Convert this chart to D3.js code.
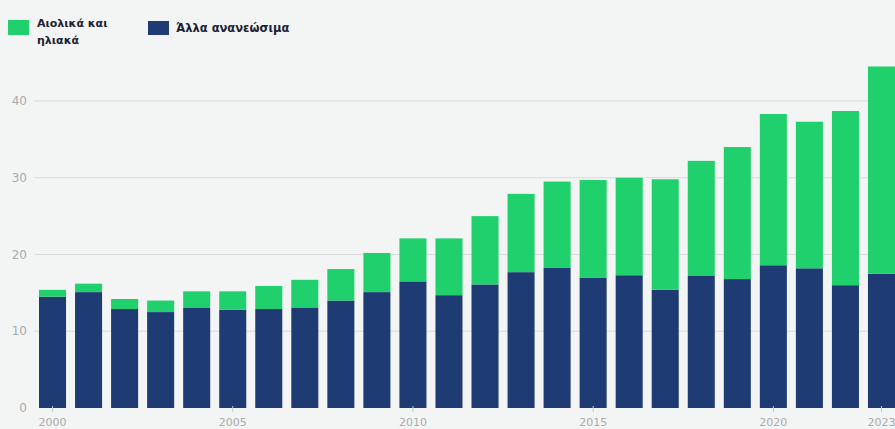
<!DOCTYPE html>
<html>
<head>
<meta charset="utf-8">
<script src="https://cdn.jsdelivr.net/npm/d3@7"></script>
<style>
  html, body { margin: 0; padding: 0; background: #f3f4f4; }
  svg { display: block; font-family: "DejaVu Sans", "Open Sans", sans-serif; }
</style>
</head>
<body>
<svg id="chart" width="895" height="429"></svg>
<script>
// Renewable electricity, stacked by source
const years = d3.range(2000, 2024);
const otherRenewables = [14.5, 15.1, 12.9, 12.5, 13.1, 12.8, 12.9, 13.1, 14.0, 15.1, 16.5, 14.7,
                         16.1, 17.7, 18.3, 17.0, 17.3, 15.4, 17.2, 16.8, 18.6, 18.2, 16.0, 17.5];
const totals        = [15.4, 16.2, 14.2, 14.0, 15.2, 15.2, 15.9, 16.7, 18.1, 20.2, 22.1, 22.1,
                         25.0, 27.9, 29.5, 29.7, 30.0, 29.8, 32.2, 34.0, 38.3, 37.3, 38.7, 44.5];
const windSolar = totals.map((t, i) => +(t - otherRenewables[i]).toFixed(1));
const yTicks = [0, 10, 20, 30, 40];
const xTickYears = [2000, 2005, 2010, 2015, 2020, 2023];
const seriesNames = ["Αιολικά και ηλιακά", "Άλλα ανανεώσιμα"];
const colors = { wind: "#1fd06c", other: "#1f3b73" };

const svg = d3.select("#chart");

const x = d3.scaleBand()
  .domain(years)
  .range([34.5, 899.5])
  .paddingInner(0.25)
  .paddingOuter(0.125);

const y = d3.scaleLinear().domain([0, 40]).range([408, 101]);

// gridlines
svg.append("g")
  .selectAll("line")
  .data(yTicks.filter(d => d > 0))
  .join("line")
  .attr("x1", 34).attr("x2", 895)
  .attr("y1", d => y(d)).attr("y2", d => y(d))
  .attr("stroke", "#d9dbdb")
  .attr("stroke-width", 1);

// y labels
svg.append("g")
  .selectAll("text")
  .data(yTicks)
  .join("text")
  .attr("x", 27)
  .attr("y", d => y(d))
  .attr("dy", "0.35em")
  .attr("text-anchor", "end")
  .attr("fill", "#a9abab")
  .style("font-size", "12px")
  .text(d => d);

// stacked bars
const rows = years.map((yr, i) => ({ year: yr, other: otherRenewables[i], wind: windSolar[i] }));
const stack = d3.stack().keys(["other", "wind"])(rows);

svg.append("g")
  .selectAll("g")
  .data(stack)
  .join("g")
  .attr("fill", d => colors[d.key])
  .selectAll("rect")
  .data(d => d)
  .join("rect")
  .attr("x", d => x(d.data.year))
  .attr("width", x.bandwidth())
  .attr("y", d => y(d[1]))
  .attr("height", d => y(d[0]) - y(d[1]));

// x ticks and labels
const xg = svg.append("g");
xg.selectAll("line")
  .data(xTickYears)
  .join("line")
  .attr("x1", d => x(d) + x.bandwidth() / 2)
  .attr("x2", d => x(d) + x.bandwidth() / 2)
  .attr("y1", 406).attr("y2", 412)
  .attr("stroke", "#c8cacc")
  .attr("stroke-width", 1);
xg.selectAll("text")
  .data(xTickYears)
  .join("text")
  .attr("x", d => x(d) + x.bandwidth() / 2)
  .attr("y", 426)
  .attr("text-anchor", "middle")
  .attr("fill", "#a9abab")
  .style("font-size", "11px")
  .text(d => d);

// legend
const legend = svg.append("g");
legend.append("rect").attr("x", 8).attr("y", 20).attr("width", 21).attr("height", 15).attr("fill", colors.wind);
legend.append("text")
  .attr("x", 37).attr("y", 23)
  .attr("fill", "#1c2233")
  .style("font-size", "11px").style("font-weight", 600)
  .selectAll("tspan")
  .data(["Αιολικά και", "ηλιακά"])
  .join("tspan")
  .attr("x", 37)
  .attr("dy", (d, i) => i === 0 ? "0.35em" : "1.6em")
  .text(d => d);
legend.append("rect").attr("x", 148).attr("y", 21).attr("width", 21).attr("height", 14).attr("fill", colors.other);
legend.append("text")
  .attr("x", 176).attr("y", 28).attr("dy", "0.35em")
  .attr("fill", "#1c2233")
  .style("font-size", "11.5px").style("font-weight", 600)
  .text(seriesNames[1]);
</script>
</body>
</html>
